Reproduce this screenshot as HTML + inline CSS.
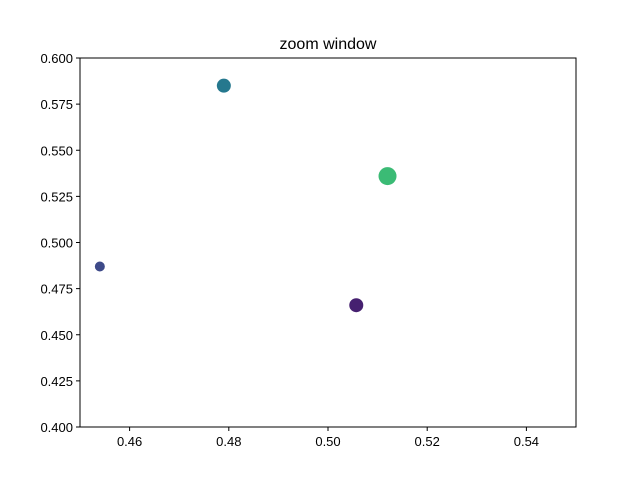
<!DOCTYPE html>
<html><head><meta charset="utf-8"><style>
body{margin:0;background:#fff;font-family:"Liberation Sans","DejaVu Sans",sans-serif;}
</style></head><body>
<svg width="640" height="480" xmlns="http://www.w3.org/2000/svg">
<rect width="640" height="480" fill="#fff"/>
<text x="328" y="49" text-anchor="middle" font-size="16">zoom window</text>
<g id="marks"></g>
<rect x="80" y="58" width="496" height="369" fill="none" stroke="#000" stroke-width="1"/>
<g id="xt"></g>
<g id="yt"></g>
</svg>
<script>
const xs=[0.454,0.479,0.512,0.5057];
const ys=[0.487,0.585,0.536,0.466];
const sizes=[5,7,9,7];
const colors=["#3e4a89","#25788e","#3bbb75","#462070"];
const xTicks=["0.46","0.48","0.50","0.52","0.54"];
const yTicks=["0.400","0.425","0.450","0.475","0.500","0.525","0.550","0.575","0.600"];
const L=80,R=576,T=58,B=427,x0=0.45,x1=0.55,y0=0.4,y1=0.6;
const sx=v=>L+(v-x0)/(x1-x0)*(R-L);
const sy=v=>B-(v-y0)/(y1-y0)*(B-T);
const NS="http://www.w3.org/2000/svg";
function mk(t,a){const e=document.createElementNS(NS,t);for(const k in a)e.setAttribute(k,a[k]);return e;}
const g=document.getElementById('marks');
xs.forEach((x,i)=>{const c=mk('circle',{cx:sx(x),cy:sy(ys[i]),r:sizes[i],fill:colors[i]});


g.appendChild(c);});
const xt=document.getElementById('xt');
xTicks.forEach(s=>{const v=parseFloat(s),x=sx(v);
const l=mk('line',{x1:x,x2:x,y1:B,y2:B+4,stroke:'#000'});


xt.appendChild(l);
const t=mk('text',{x:x,y:B+19,'text-anchor':'middle','font-size':'13'});t.textContent=s;


xt.appendChild(t);});
const yt=document.getElementById('yt');
yTicks.forEach(s=>{const v=parseFloat(s),y=sy(v);
const l=mk('line',{x1:L-4,x2:L,y1:y,y2:y,stroke:'#000'});


yt.appendChild(l);
const t=mk('text',{x:L-7,y:y+5,'text-anchor':'end','font-size':'13'});t.textContent=s;


yt.appendChild(t);});
</script>
</body></html>
